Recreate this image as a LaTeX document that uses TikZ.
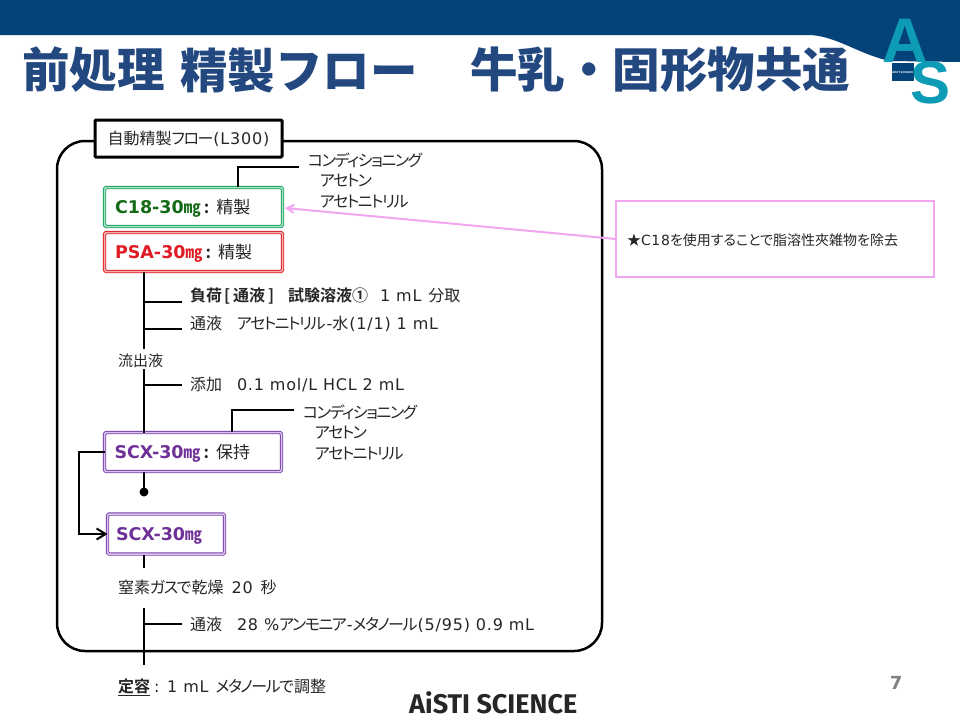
\documentclass[tikz,border=0pt]{standalone}
\usepackage{fontspec}
\setmainfont[RawFeature=+palt,BoldFont={Noto Sans CJK JP Bold}]{Noto Sans CJK JP}
\newfontfamily\nkfont[RawFeature=+palt,LetterSpace=-9]{Noto Sans CJK JP}
\newfontfamily\titlefont{Noto Sans CJK JP Black}
\newfontfamily\latfont[Scale=1.0,LetterSpace=5]{DejaVu Sans}
\newfontfamily\latbold[Scale=1.03]{DejaVu Sans Bold}
\newfontfamily\plainbold{DejaVu Sans Bold}
\newfontfamily\brandfont{Fira Sans Bold}
\newfontfamily\logofont{Liberation Sans Bold}
\newcommand{\lt}[1]{{\latfont #1}}
\newcommand{\ltb}[1]{{\latbold #1}}
\newcommand{\nk}[1]{{\nkfont #1}}
\usetikzlibrary{arrows.meta}
\definecolor{hdr}{HTML}{04427A}
\definecolor{ttl}{HTML}{22487F}
\definecolor{teal}{HTML}{0E9BB5}
\definecolor{cgreen}{HTML}{1B9E5F}
\definecolor{lgreen}{HTML}{A5E5C0}
\definecolor{tgreen}{HTML}{146B17}
\definecolor{cred}{HTML}{E01B24}
\definecolor{lred}{HTML}{F8B0B0}
\definecolor{cpurp}{HTML}{7A3FA8}
\definecolor{lpurp}{HTML}{D8C4EC}
\definecolor{tpurp}{HTML}{6F3198}
\definecolor{pinkl}{HTML}{F2A6F0}
\tikzset{
  lbl/.style={anchor=west,inner sep=0pt,outer sep=0pt,text=black!85,font=\fontsize{16}{19}\selectfont},
  small/.style={lbl,font=\fontsize{15}{18}\selectfont},
  cart/.style={draw,fill=white,line width=0.9pt,double distance=1.5pt,rounded corners=1.5pt,
    inner sep=0pt,outer sep=0pt,anchor=north west,align=left,font=\fontsize{17}{20}\selectfont},
  green box/.style={cart,draw=cgreen,double=lgreen},
  red box/.style={cart,draw=cred,double=lred},
  purple box/.style={cart,draw=cpurp,double=lpurp},
  flow/.style={draw=black,line width=2pt},
  ttlt/.style={anchor=west,inner sep=0pt,text=ttl,font=\titlefont\fontsize{47.5}{50}\selectfont}
}
\newcommand{\dn}[1]{\raisebox{-6pt}[0pt][0pt]{#1}}
\begin{document}
\begin{tikzpicture}[x=1pt,y=-1pt]
\useasboundingbox (0,0) rectangle (960,720);
\fill[white] (0,0) rectangle (960,720);
% header
\fill[hdr] (0,0) -- (960,0) -- (960,62) -- (890,61) .. controls (860,55) and (835,35) .. (808,35) -- (0,35) -- cycle;
% title
\node[ttlt] (t1) at (22,70) {前処理};
\node[ttlt] (t2) at (180,70) {精製フロー};
\node[ttlt] (t3) at (470,70) {牛乳・固形物共通};
% logo
\node[inner sep=0pt,fill=hdr,minimum width=22pt,minimum height=18pt,anchor=north west,text=white,font=\plainbold\fontsize{2.6}{3}\selectfont] (logobar) at (891.5,63) {AiSTI SCIENCE};
\node[inner sep=0pt,text=teal,font=\logofont\fontsize{63}{63}\selectfont] (logoa) at (905,41) {A};
\node[inner sep=0pt,text=teal,font=\logofont\fontsize{60}{60}\selectfont] (logos) at (930,83) {S};
% panel
\node[draw=black,line width=2.5pt,rounded corners=28pt,minimum width=545pt,minimum height=510pt,anchor=north west,inner sep=0pt,outer sep=0pt] (panel) at (57,141) {};
\node[draw=black,fill=white,line width=3pt,minimum width=187pt,minimum height=37pt,rounded corners=1pt,anchor=north west,inner sep=0pt,outer sep=0pt,font=\fontsize{16}{19}\selectfont,text=black!85] (head) at (95,120) {自動精製\nk{フロー}\lt{(L300)}};
% cartridges
\node[green box,minimum width=178pt,minimum height=39pt,text width=157pt,text=black!85] (c18) at (104.5,187.5) {\dn{\textcolor{tgreen}{\ltb{C18-30}\textbf{㎎}}\hspace{3pt}\textbf{:}\hspace{7pt}精製}};
\node[red box,minimum width=178pt,minimum height=39pt,text width=157pt,text=black!85] (psa) at (104.5,232.5) {\dn{\textcolor{cred}{\ltb{PSA-30}\textbf{㎎}}\hspace{3pt}\textbf{:}\hspace{7pt}精製}};
\node[purple box,minimum width=177pt,minimum height=39pt,text width=157pt,text=black!85] (scxa) at (104.5,432.5) {\dn{\textcolor{tpurp}{\ltb{SCX-30}\textbf{㎎}}\hspace{3pt}\textbf{:}\hspace{7pt}保持}};
\node[purple box,minimum width=117pt,minimum height=40pt,text width=100pt] (scxb) at (107.5,514) {\dn{\textcolor{tpurp}{\ltb{SCX-30}\textbf{㎎}}}};
% labels
\node[lbl] (cond1a) at (308,160) {\nk{コンディショニング}};
\node[lbl] (cond1b) at (320,181) {\nk{アセトン}};
\node[lbl] (cond1c) at (320,202) {\nk{アセトニトリル}};
\node[lbl] (load) at (190,296) {\textbf{負荷\hspace{2pt}[\hspace{3pt}通液\hspace{3pt}]}\hspace{14pt}\textbf{試験溶液①}\hspace{12pt}\lt{1 mL}\hspace{7pt}分取};
\node[lbl] (pass1) at (190,324) {通液\hspace{15pt}\nk{アセトニトリル}\hspace{1pt}\lt{-}水\hspace{1pt}\lt{(1/1) 1 mL}};
\node[small] (eluate) at (118,361) {流出液};
\node[lbl] (add) at (190,385) {添加\hspace{15pt}\lt{0.1 mol/L HCL 2 mL}};
\node[lbl] (cond2a) at (303,412) {\nk{コンディショニング}};
\node[lbl] (cond2b) at (315,433) {\nk{アセトン}};
\node[lbl] (cond2c) at (315,454) {\nk{アセトニトリル}};
\node[lbl] (dry) at (118,587) {窒素\nk{ガスで}乾燥\hspace{8pt}\lt{20}\hspace{8pt}秒};
\node[lbl] (pass2) at (190,625) {通液\hspace{15pt}\lt{28 \%}\nk{アンモニア}\lt{-}\nk{メタノール}\lt{(5/95) 0.9 mL}};
\node[lbl] (fin) at (118,687) {\underline{\textbf{定容}}\hspace{4pt}\lt{: 1 mL}\hspace{7pt}\nk{メタノールで}調整};
% note
\node[draw=pinkl,line width=1.5pt,fill=white,minimum width=318pt,minimum height=76pt,anchor=north west,inner sep=0pt,outer sep=0pt] (note) at (616,201) {};
\node[lbl,font=\fontsize{14}{17}\selectfont] (notet) at (627,240) {★\lt{C18}を使用することで脂溶性夾雑物を除去};
\coordinate (noteend) at (616,239);
\coordinate (c18end) at (285,208);
\draw[draw=pinkl,line width=2pt,-{Straight Barb[length=7pt,width=8pt]}] (noteend) -- (c18end);
% flow coordinates
\coordinate (a1) at (144,349);
\coordinate (a2) at (144,369);
\coordinate (t1a) at (144,302);
\coordinate (t1b) at (182,302);
\coordinate (t2a) at (144,329);
\coordinate (t2b) at (182,329);
\coordinate (t3a) at (144,385);
\coordinate (t3b) at (182,385);
\coordinate (dot) at (144,492);
\coordinate (b1) at (144,568);
\coordinate (d1) at (144,608);
\coordinate (d2) at (144,665);
\coordinate (t4a) at (144,624);
\coordinate (t4b) at (182,624);
\coordinate (k1a) at (238,187);
\coordinate (k1b) at (238,167);
\coordinate (k1c) at (299,167);
\coordinate (k2a) at (232,432);
\coordinate (k2b) at (232,410);
\coordinate (k2c) at (294,410);
\coordinate (scxb1) at (144,555);
% connectors
\draw[flow] (psa.south -| a1) -- (a1);
\draw[flow] (t1a) -- (t1b);
\draw[flow] (t2a) -- (t2b);
\draw[flow] (a2) -- (scxa.north -| a2);
\draw[flow] (t3a) -- (t3b);
\draw[flow] (k1a) -- (k1b) -- (k1c);
\draw[flow] (k2a) -- (k2b) -- (k2c);
\draw[flow] (scxa.south -| dot) -- (dot);
\fill[black] (dot) circle (4.5pt);
\draw[flow,-{Straight Barb[length=9pt,width=11pt]}] (scxa.west) -- ++(-26,0) |- (scxb.west);
\draw[flow] (scxb1) -- (b1);
\draw[flow] (d1) -- (d2);
\draw[flow] (t4a) -- (t4b);
% footer
\node[inner sep=0pt,anchor=west,text=black!85,font=\brandfont\fontsize{27}{30}\selectfont] (brand) at (409,703) {AiSTI SCIENCE};
\node[inner sep=0pt,text=black!50,font=\plainbold\fontsize{18}{20}\selectfont] (pageno) at (896,683) {7};
\end{tikzpicture}
\end{document}
